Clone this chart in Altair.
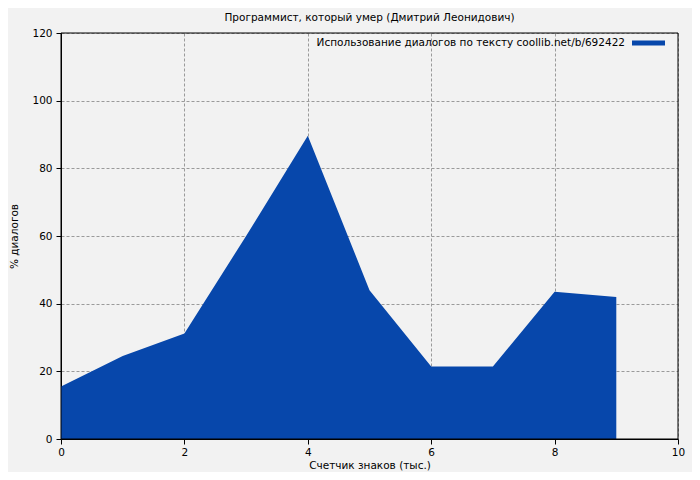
import altair as alt
import pandas as pd

chars_k = [0, 1, 2, 3, 4, 5, 6, 7, 8, 9]
dialog_pct = [15.5, 24.5, 31.2, 60.0, 89.6, 44.0, 21.4, 21.4, 43.5, 42.0]
title_text = "Программист, который умер (Дмитрий Леонидович)"
legend_text = "Использование диалогов по тексту coollib.net/b/692422"
x_title = "Счетчик знаков (тыс.)"
y_title = "% диалогов"

df = pd.DataFrame({"x": chars_k, "y": dialog_pct})
FONT = "DejaVu Sans"
FS = 10.5
BLUE = "#0747ab"

common_axis = dict(grid=True, gridDash=[3, 2], gridColor="#9a9a9a", gridWidth=1,
                   domainColor="black", tickColor="black", tickSize=5,
                   labelColor="black", labelFontSize=FS, titleFontSize=FS,
                   titleFontWeight="normal", labelFont=FONT, titleFont=FONT,
                   titleColor="black", labelFlush=False)

base = alt.Chart(df)
area = base.mark_area(color=BLUE, interpolate="linear", opacity=1).encode(
    x=alt.X("x:Q", scale=alt.Scale(domain=[0, 10], nice=False),
            axis=alt.Axis(title=x_title, values=[0, 2, 4, 6, 8, 10],
                          labelPadding=3, titlePadding=3, **common_axis)),
    y=alt.Y("y:Q", scale=alt.Scale(domain=[0, 120], nice=False),
            axis=alt.Axis(title=y_title, values=[0, 20, 40, 60, 80, 100, 120],
                          labelPadding=4, titlePadding=12, **common_axis)),
)

frame_df = pd.DataFrame({"k": [0]})
frame = alt.Chart(frame_df).mark_rect(fill=None, stroke="black", strokeWidth=1).encode(
    x=alt.value(0), x2=alt.value(617), y=alt.value(0), y2=alt.value(406))

leg_df = pd.DataFrame({"label": [legend_text]})
leg_text = alt.Chart(leg_df).mark_text(align="right", baseline="middle", font=FONT,
                                       fontSize=FS, color="black").encode(
    text="label:N", x=alt.value(564), y=alt.value(10))
leg_sym = alt.Chart(leg_df).mark_rule(color=BLUE, strokeWidth=5).encode(
    x=alt.value(571), x2=alt.value(604), y=alt.value(10))

chart = alt.layer(area, frame, leg_text, leg_sym).properties(
    width=617, height=406,
    title=alt.TitleParams(title_text, font=FONT, fontSize=FS, fontWeight="normal",
                          anchor="middle", color="black", offset=5),
    autosize=alt.AutoSizeParams(type="none"),
    padding={"left": 53, "top": 25, "right": 14, "bottom": 33},
    background="#f2f2f2",
).configure_view(stroke=None)

chart.save("out.html", embed_options={"renderer": "svg", "actions": False})
